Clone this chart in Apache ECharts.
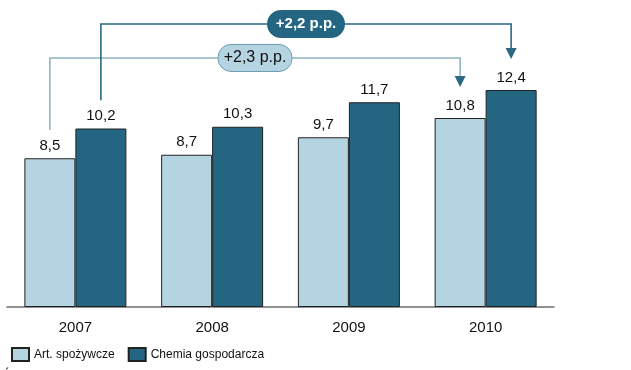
<!DOCTYPE html>
<html><head><meta charset="utf-8">
<script src="https://cdn.jsdelivr.net/npm/echarts@6/dist/echarts.min.js"></script>
<style>html,body{margin:0;padding:0;background:#fff}#c{width:631px;height:370px}</style>
</head><body><div id="c"></div>
<script>
const categories = ['2007', '2008', '2009', '2010'];
const seriesNames = ['Art. spożywcze', 'Chemia gospodarcza'];
const artSpozywcze = [8.5, 8.7, 9.7, 10.8];
const chemiaGospodarcza = [10.2, 10.3, 11.7, 12.4];
const changeLabels = ['+2,3 p.p.', '+2,2 p.p.'];
const changeLevels = [14.23, 16.17];
const sourceText = 'Źródło: opracowanie własne';

const LIGHT = '#b5d4e1', DARK = '#246682';
const chart = echarts.init(document.getElementById('c'));
const FONT = '"Liberation Sans", Arial, sans-serif';
const BW = 51;

function fmt(v) { return String(v).replace('.', ','); }

chart.setOption({
  animation: false,
  textStyle: { fontFamily: FONT },
  grid: { left: 7, right: 77, top: 9.5, bottom: 63 },
  legend: {
    left: 6, top: 342, itemWidth: 17, itemHeight: 13, itemGap: 13, icon: 'rect',
    textStyle: { fontSize: 12, color: '#111', fontFamily: FONT },
    data: seriesNames
  },
  xAxis: {
    type: 'category', data: categories,
    axisLine: { lineStyle: { color: '#6e6e6e', width: 1.5 } },
    axisTick: { show: false },
    axisLabel: { fontSize: 15, color: '#111', margin: 13, fontFamily: FONT }
  },
  yAxis: { type: 'value', min: 0, max: 17, show: false, splitLine: { show: false } },
  series: [
    { name: seriesNames[0], type: 'bar', data: artSpozywcze, barWidth: BW, barGap: '0%',
      itemStyle: { color: LIGHT, borderColor: '#222', borderWidth: 1 },
      label: { show: true, position: 'top', distance: 5, fontSize: 15, color: '#111', fontFamily: FONT, formatter: p => fmt(p.value) } },
    { name: seriesNames[1], type: 'bar', data: chemiaGospodarcza, barWidth: BW, barGap: '0%',
      itemStyle: { color: DARK, borderColor: '#222', borderWidth: 1 },
      label: { show: true, position: 'top', distance: 5, fontSize: 15, color: '#111', fontFamily: FONT, formatter: p => fmt(p.value) } }
  ]
});

function px(cat, v) { return chart.convertToPixel({ xAxisIndex: 0, yAxisIndex: 0 }, [cat, v]); }

const seriesData = [artSpozywcze, chemiaGospodarcza];
const styles = [
  { line: '#8db4c5', fill: LIGHT, stroke: '#6d9db2', text: '#111', font: 'normal 16px ', w: 74 },
  { line: '#2a6883', fill: DARK, stroke: DARK, text: '#fff', font: 'bold 15px ', w: 77 }
];
const elements = [];
[0, 1].forEach(i => {
  const d = seriesData[i];
  const off = i === 0 ? -BW / 2 : BW / 2;
  const first = categories[0], last = categories[categories.length - 1];
  const p0 = px(first, d[0] + 1.62);
  const pl = px(first, changeLevels[i]);
  const pt = px(last, d[d.length - 1] + 1.77);
  const x0 = p0[0] + off, x1 = pt[0] + off, yl = pl[1];
  const ah = 11;
  elements.push({ type: 'polyline', z: 10, shape: { points: [[x0, p0[1]], [x0, yl], [x1, yl], [x1, pt[1] - ah]] },
    style: { stroke: styles[i].line, lineWidth: 1.6, fill: null } });
  elements.push({ type: 'polygon', z: 10, shape: { points: [[x1 - 5.5, pt[1] - ah], [x1 + 5.5, pt[1] - ah], [x1, pt[1]]] },
    style: { fill: '#2a6883' } });
  const cx = (x0 + x1) / 2, w = styles[i].w, h = 27;
  elements.push({ type: 'rect', z: 11, shape: { x: cx - w / 2, y: yl - h / 2, width: w, height: h, r: 13 },
    style: { fill: styles[i].fill, stroke: styles[i].stroke, lineWidth: 1 } });
  elements.push({ type: 'text', z: 12, x: cx, y: yl,
    style: { text: changeLabels[i], fill: styles[i].text, font: styles[i].font + FONT, align: 'center', verticalAlign: 'middle' } });
});
elements.push({ type: 'text', x: 3, y: 369.5, style: { text: sourceText, fill: '#111', font: '12px ' + FONT, verticalAlign: 'top' } });
chart.setOption({ graphic: elements });
</script>
</body></html>
